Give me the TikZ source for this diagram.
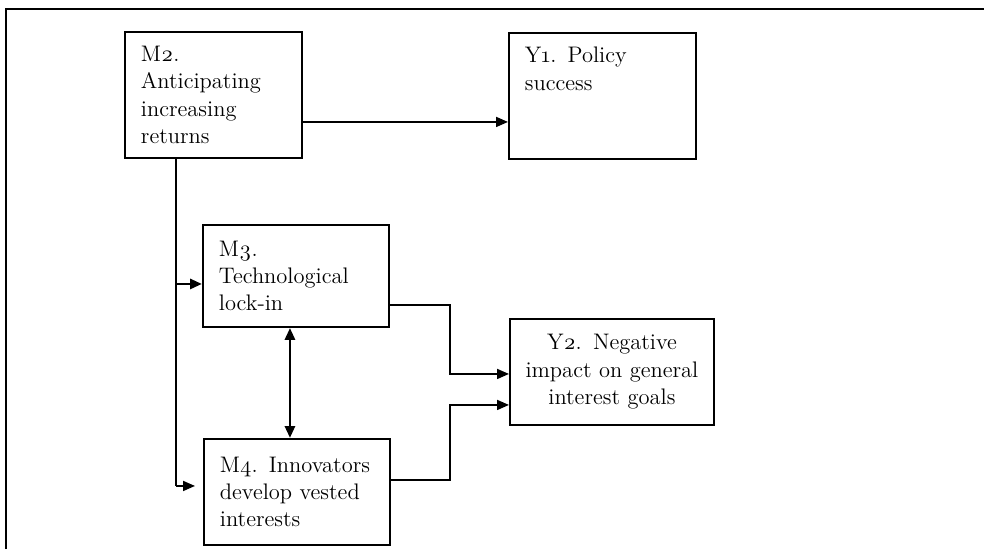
\documentclass[tikz,border=0pt]{standalone}
\usepackage{fontspec}
\setmainfont{Latin Modern Roman}[Numbers=OldStyle]
\usetikzlibrary{arrows.meta, positioning}

\begin{document}
\begin{tikzpicture}[x=0.02cm, y=-0.02cm,
		box/.style={draw, line width=1.1pt, anchor=north west, align=left, inner xsep=0.32cm, inner ysep=0pt,
			font=\fontsize{12.8}{15.6}\selectfont},
		link/.style={line width=1pt, -{Triangle[length=0.24cm, width=0.2cm]}},
		thicklink/.style={line width=1.6pt, -{Triangle[length=0.24cm, width=0.2cm]}}]
	\useasboundingbox (0,0) rectangle (984,549);
	% Frame
	\draw[line width=0.9pt] (6,549) -- (6,9) -- (984,9);
	% Boxes
	\node[box, text width=2.9cm, minimum height=2.52cm] (m2) at (124,31) {M2.\\Anticipating\\increasing\\returns};
	\node[box, text width=3.1cm, minimum height=2.52cm] (y1) at (508,32) {Y1. Policy\\success\\~\\~};
	\node[box, text width=3.08cm, minimum height=2.04cm] (m3) at (202,224) {M3.\\Technological\\lock-in};
	\node[box, text width=3.08cm, minimum height=2.12cm] (m4) at (203,438) {M4. Innovators\\develop vested\\interests};
	\node[box, align=center, inner xsep=0.12cm, text width=3.84cm, minimum height=2.12cm] (y2) at (509,318) {Y2. Negative\\impact on general\\interest goals};
	% M2 to Y1
	\draw[link] ([yshift=-0.54cm]m2.east) -- ([yshift=-0.54cm]m2.east -| y1.west);
	% M2 down to M3 and M4
	\coordinate (trunk) at ([xshift=1.04cm]m2.south west);
	\coordinate (m3in) at ([yshift=-0.16cm]m3.west);
	\coordinate (m4in) at ([xshift=-0.16cm, yshift=0.12cm]m4.west);
	\draw[line width=1pt] (trunk) -- (trunk |- m4in);
	\draw[thicklink] (trunk |- m3in) -- (m3in);
	\draw[link] (trunk |- m4in) -- (m4in);
	% M3 and M4
	\draw[thicklink, {Triangle[length=0.24cm, width=0.2cm]}-{Triangle[length=0.24cm, width=0.2cm]}] ([xshift=-0.12cm]m3.south) -- ([xshift=-0.12cm]m3.south |- m4.north);
	% To Y2
	\draw[link] ([yshift=-0.58cm]m3.east) -- ++(1.2cm,0) |- ([yshift=-0.04cm]y2.west);
	\draw[link] ([yshift=0.24cm]m4.east) -- ++(1.18cm,0) |- ([yshift=-0.66cm]y2.west);
\end{tikzpicture}
\end{document}
